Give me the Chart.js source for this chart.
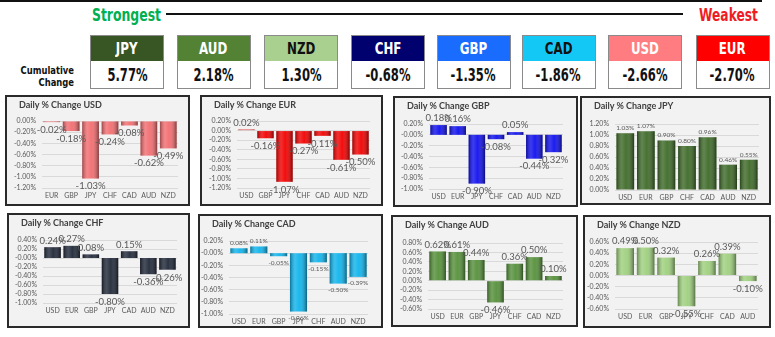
<!DOCTYPE html>
<html>
<head>
<meta charset="utf-8">
<script src="https://cdn.jsdelivr.net/npm/chart.js@4"></script>
<style>
  body { margin: 0; width: 775px; height: 337px; background: #fff; position: relative; overflow: hidden; font-family: Lato, sans-serif; }
  .abs { position: absolute; }
  .cond { font-family: 'DejaVu Sans', sans-serif; font-weight: bold; }
  .sq { display: inline-block; transform-origin: center; }
  .topline { left: 0; top: 0; width: 762px; height: 2px; background: #111; }
  .midline { left: 166px; top: 13px; width: 517px; height: 2px; background: #111; }
  .strong { left: 92px; top: 5px; font-size: 17px; color: #00b050; transform: scaleX(0.73); transform-origin: left; }
  .weak { left: 699px; top: 5px; font-size: 17px; color: #ee1c25; transform: scaleX(0.72); transform-origin: left; }
  .cum { left: 0px; top: 64px; width: 74px; text-align: right; font-size: 10.5px; line-height: 12px; color: #111; transform: scaleX(0.8); transform-origin: right; }
  .hbox { width: 72px; height: 25px; border: 1px solid #8a8a8a; text-align: center; line-height: 26px; font-size: 16px; }
  .hbox .sq { transform: scaleX(0.74); }
  .vbox { width: 72px; height: 27px; border: 1px solid #8a8a8a; border-top: none; background: #fff; text-align: center; line-height: 29px; font-size: 17px; color: #111; }
  .vbox .sq { transform: scaleX(0.68); }
  .panel { border: 2px solid #2a2a2a; background: #f2f2f2; box-sizing: border-box; }
  .ptitle { font-size: 9px; font-weight: bold; color: #404040; }
</style>
</head>
<body>
<div class="abs topline"></div>
<div class="abs midline"></div>
<div class="abs cond strong">Strongest</div>
<div class="abs cond weak">Weakest</div>
<div class="abs cond cum">Cumulative<br>Change</div>
<div id="root"></div>
<script>
// ranking (strongest -> weakest)
var rankCurrencies = ['JPY', 'AUD', 'NZD', 'CHF', 'GBP', 'CAD', 'USD', 'EUR'];
var rankValues = [5.77, 2.18, 1.30, -0.68, -1.35, -1.86, -2.66, -2.70];
var rankColors = ['#375623', '#548235', '#a9d08e', '#00006e', '#1a6cff', '#14c8f5', '#ff7c80', '#ff0000'];
var rankText = ['#fff', '#fff', '#111', '#fff', '#fff', '#111', '#fff', '#fff'];

// daily % change per currency
var usdLabels = ['EUR', 'GBP', 'JPY', 'CHF', 'CAD', 'AUD', 'NZD'];
var usdValues = [-0.02, -0.18, -1.03, -0.24, -0.08, -0.62, -0.49];
var eurLabels = ['USD', 'GBP', 'JPY', 'CHF', 'CAD', 'AUD', 'NZD'];
var eurValues = [0.02, -0.16, -1.07, -0.27, -0.11, -0.61, -0.50];
var gbpLabels = ['USD', 'EUR', 'JPY', 'CHF', 'CAD', 'AUD', 'NZD'];
var gbpValues = [0.18, 0.16, -0.90, -0.08, 0.05, -0.44, -0.32];
var jpyLabels = ['USD', 'EUR', 'GBP', 'CHF', 'CAD', 'AUD', 'NZD'];
var jpyValues = [1.03, 1.07, 0.90, 0.80, 0.96, 0.46, 0.55];
var chfLabels = ['USD', 'EUR', 'GBP', 'JPY', 'CAD', 'AUD', 'NZD'];
var chfValues = [0.24, 0.27, 0.08, -0.80, 0.15, -0.36, -0.26];
var cadLabels = ['USD', 'EUR', 'GBP', 'JPY', 'CHF', 'AUD', 'NZD'];
var cadValues = [0.08, 0.11, -0.05, -0.96, -0.15, -0.50, -0.39];
var audLabels = ['USD', 'EUR', 'GBP', 'JPY', 'CHF', 'CAD', 'NZD'];
var audValues = [0.62, 0.61, 0.44, -0.46, 0.36, 0.50, 0.10];
var nzdLabels = ['USD', 'EUR', 'GBP', 'JPY', 'CHF', 'CAD', 'AUD'];
var nzdValues = [0.49, 0.50, 0.32, -0.55, 0.26, 0.39, -0.10];

// axis ranges [min, max]
var usdRange = [-1.2, 0];
var eurRange = [-1.2, 0.2];
var gbpRange = [-1.0, 0.2];
var jpyRange = [0, 1.2];
var chfRange = [-1.0, 0.4];
var cadRange = [-1.0, 0.2];
var audRange = [-0.6, 0.8];
var nzdRange = [-0.6, 0.6];

var panels = [
  { name: 'USD', labels: usdLabels, values: usdValues, range: usdRange, color: '#f26d70', box: [5, 95, 185, 111], plot: [42, 121, 178, 188], lab: 9.5 },
  { name: 'EUR', labels: eurLabels, values: eurValues, range: eurRange, color: '#f20000', box: [200, 95, 183, 111], plot: [237, 121, 370, 188], lab: 9.5 },
  { name: 'GBP', labels: gbpLabels, values: gbpValues, range: gbpRange, color: '#1010ee', box: [393, 96, 185, 111], plot: [429, 124, 563, 189], lab: 9.5 },
  { name: 'JPY', labels: jpyLabels, values: jpyValues, range: jpyRange, color: '#3e6a28', box: [580, 96, 191, 109], plot: [615, 124, 759, 190], lab: 6.5 },
  { name: 'CHF', labels: chfLabels, values: chfValues, range: chfRange, color: '#202838', box: [7, 213, 183, 115], plot: [43, 240, 177, 303], lab: 9.5 },
  { name: 'CAD', labels: cadLabels, values: cadValues, range: cadRange, color: '#10b4ec', box: [198, 214, 185, 114], plot: [229, 241, 368, 314], lab: 6.5 },
  { name: 'AUD', labels: audLabels, values: audValues, range: audRange, color: '#55903a', box: [391, 215, 187, 112], plot: [428, 243, 563, 309], lab: 9.5 },
  { name: 'NZD', labels: nzdLabels, values: nzdValues, range: nzdRange, color: '#9fd07e', box: [583, 215, 188, 113], plot: [615, 242, 758, 309], lab: 9.5 }
];

var boxLeft = [90, 176.5, 264, 351, 436.5, 521.5, 608, 695.5];

function buildHeader() {
  var root = document.getElementById('root');
  rankCurrencies.forEach(function (c, i) {
    var h = document.createElement('div');
    h.className = 'abs cond hbox';
    h.style.left = boxLeft[i] + 'px';
    h.style.top = '35px';
    h.style.background = rankColors[i];
    h.style.color = rankText[i];
    h.innerHTML = '<span class="sq">' + c + '</span>';
    root.appendChild(h);
    var v = document.createElement('div');
    v.className = 'abs cond vbox';
    v.style.left = boxLeft[i] + 'px';
    v.style.top = '61px';
    v.innerHTML = '<span class="sq">' + rankValues[i].toFixed(2) + '%</span>';
    root.appendChild(v);
  });
}

// cylinder-ish shading and value labels on each bar
var barDecor = {
  id: 'barDecor',
  afterDatasetsDraw: function (chart, args, opts) {
    var ctx = chart.ctx;
    var meta = chart.getDatasetMeta(0);
    var vals = chart.data.datasets[0].data;
    ctx.save();
    meta.data.forEach(function (bar) {
      var w = bar.width, l = bar.x - w / 2;
      var top = Math.min(bar.y, bar.base), h = Math.abs(bar.base - bar.y);
      var g = ctx.createLinearGradient(l, 0, l + w, 0);
      g.addColorStop(0, 'rgba(0,0,0,0.35)');
      g.addColorStop(0.3, 'rgba(255,255,255,0.18)');
      g.addColorStop(0.55, 'rgba(255,255,255,0.05)');
      g.addColorStop(1, 'rgba(0,0,0,0.45)');
      ctx.fillStyle = g;
      ctx.fillRect(l, top, w, h);
    });
    ctx.font = opts.size + 'px Lato, sans-serif';
    ctx.fillStyle = '#595959';
    ctx.textAlign = 'center';
    meta.data.forEach(function (bar, i) {
      var v = vals[i];
      var txt = v.toFixed(2) + '%';
      if (v >= 0) {
        ctx.textBaseline = 'bottom';
        ctx.fillText(txt, bar.x, bar.y - 2);
      } else {
        ctx.textBaseline = 'top';
        ctx.fillText(txt, bar.x, bar.y + 3);
      }
    });
    ctx.restore();
  }
};

function buildPanel(p) {
  var root = document.getElementById('root');
  var x = p.box[0], y = p.box[1], w = p.box[2], h = p.box[3];
  var panel = document.createElement('div');
  panel.className = 'abs panel';
  Object.assign(panel.style, { left: x + 'px', top: y + 'px', width: w + 'px', height: h + 'px' });
  root.appendChild(panel);

  var canvas = document.createElement('canvas');
  canvas.className = 'abs';
  canvas.width = w;
  canvas.height = h;
  Object.assign(canvas.style, { left: x + 'px', top: y + 'px' });
  root.appendChild(canvas);

  var title = document.createElement('div');
  title.className = 'abs ptitle';
  Object.assign(title.style, { left: (x + 14) + 'px', top: (y + 4) + 'px' });
  title.textContent = 'Daily % Change ' + p.name;
  root.appendChild(title);

  var yW = p.plot[0] - x;
  var xH = (y + h) - p.plot[3];

  new Chart(canvas, {
    type: 'bar',
    data: {
      labels: p.labels,
      datasets: [{
        data: p.values,
        backgroundColor: p.color,
        borderWidth: 0,
        barPercentage: 0.86,
        categoryPercentage: 1
      }]
    },
    options: {
      responsive: false,
      animation: false,
      layout: { padding: { left: 0, top: p.plot[1] - y, right: (x + w) - p.plot[2], bottom: 0 } },
      plugins: {
        legend: { display: false },
        tooltip: { enabled: false },
        barDecor: { size: p.lab }
      },
      scales: {
        x: {
          grid: { display: false, drawTicks: false },
          border: { display: false },
          ticks: { font: { family: 'Lato', size: 7 }, color: '#595959', padding: 4, autoSkip: false, maxRotation: 0, minRotation: 0 },
          afterFit: function (s) { s.height = xH; }
        },
        y: {
          min: p.range[0],
          max: p.range[1],
          grid: { color: '#d9d9d9', drawTicks: false },
          border: { display: false },
          ticks: {
            stepSize: 0.2,
            autoSkip: false,
            padding: 6,
            font: { family: 'Lato', size: 7 },
            color: '#595959',
            callback: function (v) { return v.toFixed(2) + '%'; }
          },
          afterFit: function (s) { s.width = yW; }
        }
      }
    },
    plugins: [barDecor]
  });
}

document.addEventListener('DOMContentLoaded', function () {
  buildHeader();
  panels.forEach(buildPanel);
});
</script>
</body>
</html>
